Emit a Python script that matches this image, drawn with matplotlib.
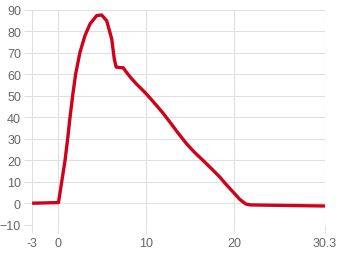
import matplotlib
matplotlib.use("Agg")
import matplotlib.pyplot as plt

x_vals = [-3, 0, 0.36, 0.74, 1.04, 1.31, 1.61, 1.95, 2.44, 3.01, 3.58, 4.34, 4.9, 5.48, 6.05, 6.34, 6.55, 6.7, 7.36, 7.8, 8.3, 8.9, 9.4, 10.0, 10.6, 11.16, 11.9, 12.67, 13.6, 14.57, 15.5, 16.46, 17.4, 18.35, 19.1, 19.87, 20.6, 21.3, 21.8, 25, 30.3]
y_vals = [0, 0.3, 9.8, 19.8, 29.9, 40, 50, 60.1, 70.2, 78, 83.4, 87.3, 87.6, 84.9, 76.4, 67.1, 63.4, 63.2, 63, 60.5, 58, 55.3, 53.3, 50.8, 48, 45.4, 41.8, 37.7, 32.6, 27.6, 23.5, 19.8, 16, 12.1, 8.5, 5.1, 1.8, -0.4, -0.8, -1.0, -1.3]

x_ticks = [-3, 0, 10, 20, 30.3]
x_labels = ["-3", "0", "10", "20", "30.3"]
y_ticks = [-10, 0, 10, 20, 30, 40, 50, 60, 70, 80, 90]

fig = plt.figure(figsize=(3.4, 2.55), dpi=100)
ax = fig.add_axes([32.1/340, (255-225.7)/255, (325.1-32.1)/340, (225.7-10.8)/255])
grid_c = "#e0e0e0"
ax.plot(x_vals, y_vals, color="#d0021b", lw=2.4, solid_joinstyle="round", solid_capstyle="butt", zorder=3)
ax.set_xlim(-3, 30.3)
ax.set_ylim(-10, 90)
ax.set_xticks(x_ticks)
ax.set_xticklabels(x_labels)
ax.set_yticks(y_ticks)
for s in ax.spines.values():
    s.set_visible(False)
ax.grid(True, color=grid_c, lw=0.8, zorder=0)
ax.tick_params(axis="x", length=6, color=grid_c, width=0.8, pad=3, labelsize=9, labelcolor="#666666")
ax.tick_params(axis="y", length=6, color=grid_c, width=0.8, pad=2, labelsize=9, labelcolor="#666666")
for lab in ax.get_xticklabels() + ax.get_yticklabels():
    lab.set_family(["Liberation Sans", "DejaVu Sans"])
fig.savefig("out.png", dpi=100)
